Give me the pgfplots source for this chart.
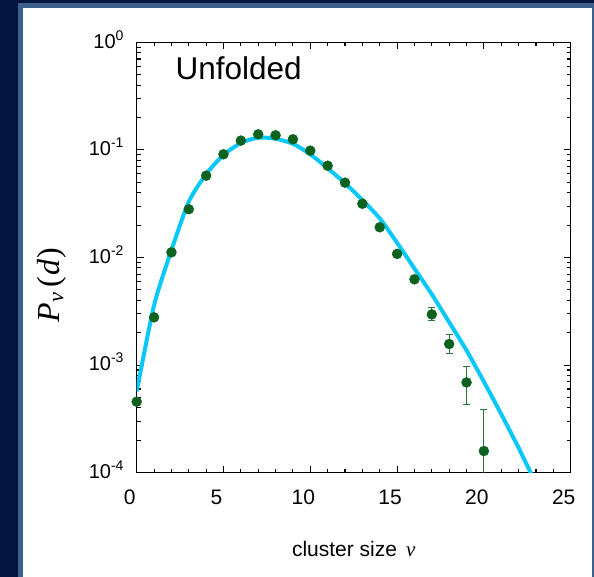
\documentclass[border=0pt]{standalone}
\usepackage{fontspec}
\setmainfont{Liberation Sans}
\newfontfamily\serif{Liberation Serif}
\usepackage{pgfplots}
\pgfplotsset{compat=1.18}
\definecolor{navy}{RGB}{3,21,62}
\definecolor{frameblue}{RGB}{60,96,140}
\definecolor{dotgreen}{RGB}{12,98,30}
\definecolor{errgreen}{RGB}{40,120,55}
\definecolor{fitcyan}{RGB}{10,200,250}

\newcommand{\ylab}[1]{10\raisebox{8pt}{\fontsize{14}{14}\selectfont #1}}

\begin{document}
\begin{tikzpicture}[x=1pt,y=1pt]
  % page background and frame
  \fill[navy] (0,0) rectangle (594,577);
  \fill[frameblue] (18,0) rectangle (594,574);
  \fill[white] (23,0) rectangle (591.7,568.7);

  \begin{axis}[
      at={(136.7pt,104.3pt)}, anchor=south west,
      scale only axis, width=434pt, height=430.4pt,
      ymode=log,
      xmin=0, xmax=25, ymin=1e-4, ymax=1,
      xtick={0,5,10,15,20,25},
      xticklabels={0,5,10,15,20,25},
      minor x tick num=4,
      ytick={1e-4,1e-3,1e-2,1e-1,1},
      yticklabels={\ylab{-4},\ylab{-3},\ylab{-2},\ylab{-1},\ylab{0}},
      minor ytick={2e-4,3e-4,4e-4,5e-4,6e-4,7e-4,8e-4,9e-4,
                   2e-3,3e-3,4e-3,5e-3,6e-3,7e-3,8e-3,9e-3,
                   2e-2,3e-2,4e-2,5e-2,6e-2,7e-2,8e-2,9e-2,
                   0.2,0.3,0.4,0.5,0.6,0.7,0.8,0.9},
      tick align=inside,
      major tick length=7pt, minor tick length=4pt,
      axis line style={line width=1.4pt},
      every tick/.style={black, line width=1.1pt},
      xticklabel style={font=\fontsize{21}{21}\selectfont, anchor=north,
                        inner sep=0pt, yshift=-17pt, xshift=-7pt},
      yticklabel style={font=\fontsize{20}{20}\selectfont, anchor=east,
                        inner sep=0pt, xshift=-13pt, yshift=3pt},
      xlabel={\fontsize{21}{21}\selectfont cluster size\hspace{9pt}{\serif\itshape ν}},
      xlabel style={at={(axis description cs:0.5,0)}, anchor=base,
                    yshift=-83.3pt, inner sep=0pt},
      ylabel={\fontsize{32}{32}\selectfont\serif
              \textit{P}\textsubscript{\textit{ν}}\hspace{5pt}(\hspace{1pt}\textit{d}\hspace{1pt})},
      ylabel style={at={(axis description cs:-0.195,0.436)}, anchor=center,
                    inner sep=0pt},
    ]
    % model curve
    \addplot[fitcyan, line width=4pt, smooth, tension=0.4] coordinates {
      (0,5.7e-4) (1,3.6e-3) (2,0.0117) (3,0.033) (4,0.0596) (5,0.0897)
      (6,0.116) (7,0.130) (8,0.127) (9,0.114) (10,0.091) (11,0.0675)
      (12,0.049) (13,0.0342) (14,0.0231) (15,0.0137) (16,7.9e-3)
      (17,4.55e-3) (18,2.5e-3) (19,1.37e-3) (20,7.0e-4) (21,3.5e-4)
      (22,1.70e-4) (23,7.9e-5)
    };
    % simulation points
    \addplot[only marks, mark=*, mark size=5pt, color=dotgreen,
             error bars/.cd, y dir=both, y explicit,
             error bar style={line width=1pt, color=errgreen},
             error mark options={rotate=90, mark size=3.5pt, line width=1pt, color=errgreen}]
      coordinates {
      (0,4.57e-4) (1,2.78e-3) (2,1.117e-2) (3,2.81e-2) (4,5.76e-2)
      (5,9.1e-2) (6,0.122) (7,0.1396) (8,0.1367) (9,0.1255) (10,0.0984)
      (11,0.0713) (12,0.0496) (13,0.0316) (14,0.0191) (15,0.0108)
      (16,6.27e-3)
      (17,2.96e-3) += (0,0.44e-3) -= (0,0.36e-3)
      (18,1.57e-3) += (0,0.34e-3) -= (0,0.29e-3)
      (19,6.9e-4) += (0,2.76e-4) -= (0,2.62e-4)
      (20,1.59e-4) += (0,2.24e-4) -= (0,1.0e-4)
    };
    \node[anchor=base west, inner sep=0pt, font=\fontsize{31.5}{31.5}\selectfont]
      at (axis description cs:0.089,0.914) {Unfolded};
  \end{axis}
  \pgfresetboundingbox
  \useasboundingbox (0,0) rectangle (594,577);
\end{tikzpicture}
\end{document}
